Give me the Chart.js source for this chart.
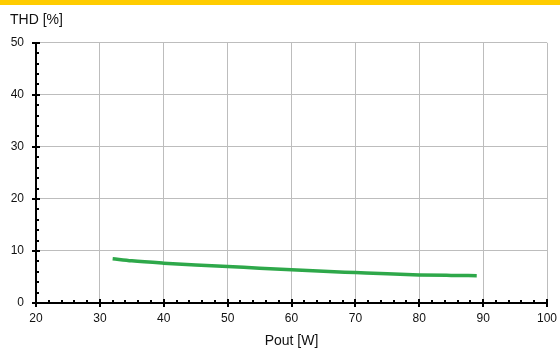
<!DOCTYPE html>
<html>
<head>
<meta charset="utf-8">
<script src="https://cdn.jsdelivr.net/npm/chart.js@4/dist/chart.umd.min.js"></script>
<style>
  html, body { margin: 0; padding: 0; background: #fff; }
  #bar { height: 5px; background: #ffcc00; }
  #wrap { width: 560px; height: 345px; position: relative; }
</style>
</head>
<body>
<div id="bar"></div>
<div id="wrap"><canvas id="thdChart"></canvas></div>
<script>
// Output power (W) and THD (%)
const powerOut = [32, 35, 40, 45, 50, 55, 60, 65, 70, 75, 80, 85, 89];
const thdValues = [8.5, 8.1, 7.65, 7.3, 7.0, 6.7, 6.4, 6.1, 5.85, 5.6, 5.4, 5.3, 5.25];

const xTicks = [20, 30, 40, 50, 60, 70, 80, 90, 100];
const yTicks = [0, 10, 20, 30, 40, 50];

// Draws black axes with major and minor tick marks
const axisPlugin = {
    id: 'axisMarks',
    afterDraw(chart) {
        const { ctx, chartArea, scales } = chart;
        const x = scales.x, y = scales.y;
        ctx.save();
        ctx.strokeStyle = '#000';
        ctx.lineWidth = 2;
        ctx.beginPath();
        ctx.moveTo(chartArea.left, chartArea.top);
        ctx.lineTo(chartArea.left, chartArea.bottom);
        ctx.lineTo(chartArea.right, chartArea.bottom);
        ctx.stroke();

        for (let v = 20; v <= 100; v += 2) {
            const px = Math.round(x.getPixelForValue(v));
            ctx.beginPath();
            if (v % 10 === 0) {
                ctx.moveTo(px, chartArea.bottom - 4);
                ctx.lineTo(px, chartArea.bottom + 4);
            } else {
                ctx.moveTo(px, chartArea.bottom - 3);
                ctx.lineTo(px, chartArea.bottom);
            }
            ctx.stroke();
        }
        for (let v = 0; v <= 50; v += 2) {
            const py = Math.round(y.getPixelForValue(v));
            ctx.beginPath();
            if (v % 10 === 0) {
                ctx.moveTo(chartArea.left - 4, py);
                ctx.lineTo(chartArea.left + 4, py);
            } else {
                ctx.moveTo(chartArea.left, py);
                ctx.lineTo(chartArea.left + 3, py);
            }
            ctx.stroke();
        }
        ctx.restore();
    }
};

const ctx = document.getElementById('thdChart').getContext('2d');
const chart = new Chart(ctx, {
    type: 'scatter',
    data: {
        datasets: [{
            label: 'THD',
            data: powerOut.map((p, i) => ({ x: p, y: thdValues[i] })),
            showLine: true,
            borderColor: '#2ea84a',
            borderWidth: 3.5,
            pointRadius: 0,
            cubicInterpolationMode: 'monotone',
            fill: false
        }]
    },
    options: {
        responsive: true,
        maintainAspectRatio: false,
        animation: false,
        layout: { padding: { left: 10, right: 13, top: 0, bottom: 0 } },
        plugins: {
            legend: { display: false },
            tooltip: { enabled: false },
            title: {
                display: true,
                text: 'THD [%]',
                align: 'start',
                color: '#111',
                font: { family: 'Liberation Sans, Arial', size: 14, weight: 'normal' },
                padding: { top: 7, bottom: 14 }
            }
        },
        scales: {
            x: {
                type: 'linear',
                min: 20,
                max: 100,
                afterBuildTicks: axis => { axis.ticks = xTicks.map(v => ({ value: v })); },
                afterFit: axis => {
                    axis.height = 47;
                    axis.paddingLeft = 0;
                    axis.paddingRight = 0;
                },
                ticks: {
                    color: '#111',
                    font: { family: 'Liberation Sans, Arial', size: 12 },
                    padding: 8,
                    maxRotation: 0
                },
                grid: { color: '#bdbdbd', lineWidth: 1, drawTicks: false },
                border: { display: false },
                title: {
                    display: true,
                    text: 'Pout [W]',
                    color: '#111',
                    font: { family: 'Liberation Sans, Arial', size: 14 },
                    padding: { top: 4, bottom: 0 }
                }
            },
            y: {
                min: 0,
                max: 50,
                afterBuildTicks: axis => { axis.ticks = yTicks.map(v => ({ value: v })); },
                afterFit: axis => { axis.width = 26; },
                ticks: {
                    color: '#111',
                    font: { family: 'Liberation Sans, Arial', size: 12 },
                    padding: 12
                },
                grid: { color: '#bdbdbd', lineWidth: 1, drawTicks: false },
                border: { display: false }
            }
        }
    },
    plugins: [axisPlugin]
});
</script>
</body>
</html>
